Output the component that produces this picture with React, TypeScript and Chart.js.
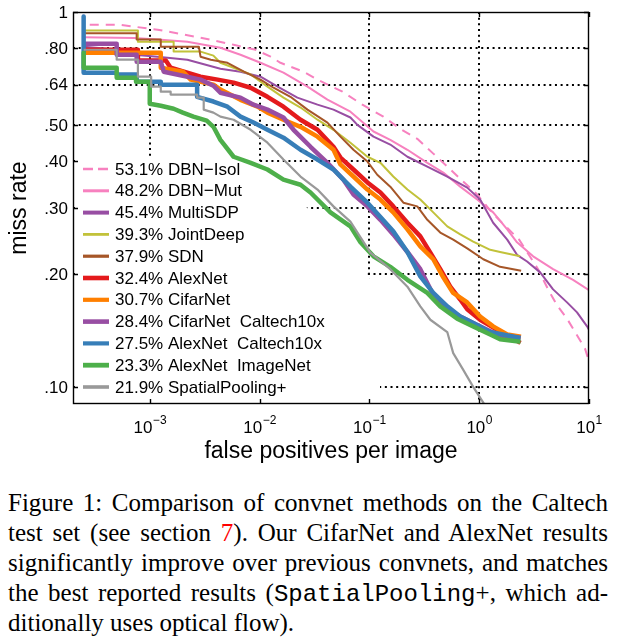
import React, { useEffect, useRef } from "react";
import { Chart, registerables } from "chart.js";

Chart.register(...registerables);

// ---------------- data ----------------
const seriesLabels = [
  "53.1% DBN\u2212Isol",
  "48.2% DBN\u2212Mut",
  "45.4% MultiSDP",
  "39.3% JointDeep",
  "37.9% SDN",
  "32.4% AlexNet",
  "30.7% CifarNet",
  "28.4% CifarNet  Caltech10x",
  "27.5% AlexNet  Caltech10x",
  "23.3% AlexNet  ImageNet",
  "21.9% SpatialPooling+",
];

// [false positives per image, miss rate]
const dbnIsol = [
  [2.5e-4, 0.983], [2.5e-4, 0.925], [5.2e-4, 0.925], [1.18e-3, 0.897], [2.9e-3, 0.854],
  [5.8e-3, 0.818], [9.2e-3, 0.793], [0.0126, 0.76], [0.0155, 0.732], [0.0251, 0.693],
  [0.0337, 0.66], [0.0569, 0.613], [0.0864, 0.566], [0.134, 0.526], [0.191, 0.488],
  [0.273, 0.459], [0.382, 0.419], [0.512, 0.387], [0.7, 0.355], [0.959, 0.326],
  [1.29, 0.293], [1.72, 0.269], [2.31, 0.247], [3.44, 0.206], [4.24, 0.182],
  [5.12, 0.165], [6.31, 0.152], [7.46, 0.14], [9.2, 0.1265], [10, 0.117],
];
const dbnMut = [
  [2.5e-4, 0.856], [7.2e-4, 0.852], [1.18e-3, 0.845], [2.2e-3, 0.833], [4.4e-3, 0.803],
  [6.7e-3, 0.769], [0.0102, 0.732], [0.0165, 0.689], [0.0273, 0.632], [0.0415, 0.584],
  [0.0672, 0.542], [0.109, 0.48], [0.155, 0.456], [0.222, 0.429], [0.337, 0.396],
  [0.471, 0.373], [0.672, 0.342], [0.959, 0.316], [1.34, 0.292], [1.8, 0.263],
  [2.21, 0.243], [3.1, 0.223], [4.71, 0.206], [7.16, 0.193], [10, 0.181],
];
const multiSdp = [
  [2.5e-4, 0.808], [5.4e-4, 0.793], [7.2e-4, 0.769], [1.18e-3, 0.76], [2.2e-3, 0.746],
  [4.4e-3, 0.706], [6.7e-3, 0.693], [0.0102, 0.672], [0.0146, 0.632], [0.0221, 0.591],
  [0.0337, 0.566], [0.0471, 0.549], [0.0672, 0.523], [0.0778, 0.5], [0.109, 0.465],
  [0.155, 0.443], [0.222, 0.411], [0.337, 0.387], [0.512, 0.364], [0.778, 0.34],
  [1.02, 0.316], [1.34, 0.274], [1.8, 0.247], [2.21, 0.225], [2.73, 0.216],
  [3.59, 0.202], [4.71, 0.182], [6.31, 0.168], [7.78, 0.158], [9.6, 0.145], [10, 0.142],
];
const jointDeep = [
  [2.5e-4, 0.893], [7.8e-4, 0.893], [7.8e-4, 0.833], [1.65e-3, 0.833], [1.65e-3, 0.785],
  [2.9e-3, 0.784], [3.8e-3, 0.765], [4.4e-3, 0.732], [5.8e-3, 0.71], [8.3e-3, 0.681],
  [0.0118, 0.632], [0.0165, 0.591], [0.0236, 0.556], [0.0337, 0.516], [0.0471, 0.485],
  [0.0672, 0.448], [0.096, 0.411], [0.126, 0.396], [0.165, 0.364], [0.222, 0.336],
  [0.291, 0.316], [0.382, 0.292], [0.512, 0.268], [0.672, 0.255], [0.882, 0.244],
  [1.26, 0.232], [1.55, 0.229], [2.36, 0.223],
];
const sdn = [
  [2.5e-4, 0.878], [7.6e-4, 0.878], [7.6e-4, 0.844], [1.26e-3, 0.844], [1.26e-3, 0.808],
  [2.8e-3, 0.808], [2.9e-3, 0.76], [3.6e-3, 0.746], [5.1e-3, 0.732], [7.2e-3, 0.693],
  [0.0102, 0.66], [0.0134, 0.628], [0.0191, 0.594], [0.0273, 0.549], [0.0415, 0.507],
  [0.0545, 0.465], [0.0716, 0.429], [0.096, 0.399], [0.118, 0.368], [0.155, 0.342],
  [0.204, 0.31], [0.273, 0.303], [0.337, 0.279], [0.442, 0.258], [0.58, 0.247],
  [0.778, 0.234], [1.09, 0.219], [1.55, 0.209], [2.41, 0.204],
];
const alexNet = [
  [2.5e-4, 0.793], [7.8e-4, 0.793], [7.8e-4, 0.742], [1.4e-3, 0.742], [1.55e-3, 0.71],
  [2.9e-3, 0.672], [4.15e-3, 0.66], [5.8e-3, 0.648], [8.3e-3, 0.628], [0.0118, 0.594],
  [0.0165, 0.559], [0.0236, 0.516], [0.0337, 0.485], [0.0471, 0.437], [0.0545, 0.409],
  [0.0716, 0.38], [0.096, 0.351], [0.126, 0.33], [0.165, 0.303], [0.222, 0.274],
  [0.291, 0.252], [0.359, 0.228], [0.442, 0.206], [0.545, 0.185], [0.672, 0.171],
  [0.778, 0.161], [1.02, 0.151], [1.46, 0.142], [2.38, 0.131],
];
const cifarNet = [
  [2.5e-4, 0.779], [1.26e-3, 0.779], [1.26e-3, 0.71], [2.0e-3, 0.693], [2.36e-3, 0.66],
  [3.8e-3, 0.64], [4.4e-3, 0.621], [6.7e-3, 0.583], [9.6e-3, 0.559], [0.0118, 0.539],
  [0.0165, 0.516], [0.0236, 0.494], [0.0337, 0.465], [0.0471, 0.429], [0.0545, 0.392],
  [0.0716, 0.364], [0.096, 0.336], [0.126, 0.316], [0.165, 0.292], [0.222, 0.263],
  [0.291, 0.237], [0.382, 0.219], [0.471, 0.196], [0.58, 0.178], [0.778, 0.168],
  [1.02, 0.154], [1.34, 0.145], [1.8, 0.138], [2.4, 0.136],
];
const cifarNet10x = [
  [2.5e-4, 0.823], [5.0e-4, 0.823], [5.0e-4, 0.769], [7.6e-4, 0.769], [7.6e-4, 0.737],
  [1.26e-3, 0.737], [1.34e-3, 0.693], [2.0e-3, 0.676], [2.9e-3, 0.66], [3.8e-3, 0.636],
  [4.4e-3, 0.609], [6.7e-3, 0.591], [8.8e-3, 0.566], [0.0118, 0.549], [0.0165, 0.523],
  [0.0204, 0.485], [0.0291, 0.437], [0.0415, 0.396], [0.058, 0.357], [0.0716, 0.326],
  [0.096, 0.303], [0.126, 0.279], [0.165, 0.255], [0.222, 0.229], [0.291, 0.206],
  [0.382, 0.176], [0.512, 0.161], [0.672, 0.154], [0.882, 0.148], [1.18, 0.142],
  [1.55, 0.137], [2.38, 0.135],
];
const alexNet10x = [
  [2.5e-4, 0.972], [2.5e-4, 0.689], [5.0e-4, 0.689], [5.0e-4, 0.681], [7.6e-4, 0.681],
  [7.6e-4, 0.652], [1.26e-3, 0.652], [1.26e-3, 0.64], [2.7e-3, 0.64], [2.7e-3, 0.594],
  [3.8e-3, 0.577], [5.1e-3, 0.559], [6.7e-3, 0.526], [8.8e-3, 0.507], [0.0118, 0.485],
  [0.0165, 0.462], [0.0236, 0.429], [0.0337, 0.404], [0.0471, 0.38], [0.0672, 0.342],
  [0.096, 0.31], [0.126, 0.284], [0.165, 0.26], [0.222, 0.229], [0.291, 0.197],
  [0.382, 0.178], [0.512, 0.164], [0.672, 0.154], [0.882, 0.148], [1.26, 0.14], [2.38, 0.135],
];
const alexNetImageNet = [
  [2.5e-4, 0.779], [2.5e-4, 0.71], [5.0e-4, 0.71], [5.0e-4, 0.668], [7.5e-4, 0.668],
  [7.5e-4, 0.652], [1.0e-3, 0.652], [1.0e-3, 0.569], [1.26e-3, 0.562], [1.65e-3, 0.552],
  [2.0e-3, 0.539], [2.5e-3, 0.526], [3.3e-3, 0.513], [3.8e-3, 0.494], [4.4e-3, 0.456],
  [5.8e-3, 0.411], [8.3e-3, 0.396], [0.0118, 0.38], [0.0165, 0.357], [0.0236, 0.346],
  [0.0291, 0.33], [0.0442, 0.292], [0.0672, 0.268], [0.083, 0.243], [0.109, 0.223],
  [0.155, 0.209], [0.222, 0.193], [0.337, 0.178], [0.442, 0.164], [0.631, 0.152],
  [0.882, 0.145], [1.26, 0.138], [1.55, 0.134], [2.38, 0.132],
];
const spatialPooling = [
  [2.5e-4, 0.793], [5.0e-4, 0.793], [5.0e-4, 0.746], [7.8e-4, 0.746], [7.8e-4, 0.672],
  [1.03e-3, 0.672], [1.03e-3, 0.632], [1.26e-3, 0.632], [1.26e-3, 0.613], [1.55e-3, 0.613],
  [1.55e-3, 0.602], [2.7e-3, 0.602], [2.7e-3, 0.591], [3.1e-3, 0.591], [3.1e-3, 0.549],
  [3.8e-3, 0.539], [4.4e-3, 0.526], [5.8e-3, 0.516], [8.3e-3, 0.485], [0.0118, 0.448],
  [0.0165, 0.404], [0.0236, 0.364], [0.0337, 0.336], [0.0471, 0.303], [0.0672, 0.276],
  [0.102, 0.228], [0.155, 0.206], [0.222, 0.185], [0.291, 0.164], [0.359, 0.151],
  [0.512, 0.14], [0.58, 0.123], [0.716, 0.111], [0.882, 0.1], [1.09, 0.0908], [1.4, 0.082],
];

const seriesData = [
  dbnIsol, dbnMut, multiSdp, jointDeep, sdn, alexNet, cifarNet,
  cifarNet10x, alexNet10x, alexNetImageNet, spatialPooling,
];

const xTickValues = [1e-3, 1e-2, 1e-1, 1, 10];
const xTickExponents = ["\u22123", "\u22122", "\u22121", "0", "1"];
const yTickValues = [1, 0.8, 0.64, 0.5, 0.4, 0.3, 0.2, 0.1];
const yTickLabels = ["1", ".80", ".64", ".50", ".40", ".30", ".20", ".10"];
const xAxisTitle = "false positives per image";
const yAxisTitle = "miss rate";

// ---------------- styles ----------------
const COLORS = [
  "#f781bf", "#f781bf", "#984ea3", "#c2c23a", "#a65628", "#e41a1c",
  "#ff7f00", "#984ea3", "#377eb8", "#4daf4a", "#999999",
];
const WIDTHS = [2, 2, 2, 2, 2, 4.5, 4.5, 4.5, 4.5, 4.5, 2.2];
const LEGEND_WIDTHS = [2.6, 3, 4, 2.8, 3.2, 4.6, 4.2, 4.6, 4.2, 4.8, 3.6];
const SANS = '"Liberation Sans", Arial, Helvetica, sans-serif';

const datasets = seriesLabels.map((label, i) => ({
  label,
  data: seriesData[i].map(([x, y]) => ({ x, y })),
  borderColor: COLORS[i],
  backgroundColor: COLORS[i],
  borderWidth: WIDTHS[i],
  borderDash: i === 0 ? [9, 7] : [],
  borderCapStyle: "butt",
  borderJoinStyle: "round",
  pointRadius: 0,
  pointHoverRadius: 0,
  fill: false,
  tension: 0,
  order: seriesLabels.length - i,
}));

const framePlugin = {
  id: "matlabFrame",
  beforeDatasetsDraw(chart: any) {
    const { ctx, chartArea: a, scales } = chart;
    const xs = scales.x;
    const ys = scales.y;
    ctx.save();
    ctx.fillStyle = "#fff";
    ctx.fillRect(a.left, a.top, a.right - a.left, a.bottom - a.top);
    // dotted grid
    ctx.strokeStyle = "#000";
    ctx.lineWidth = 2;
    ctx.setLineDash([2, 3.67]);
    for (const v of xTickValues) {
      const px = Math.round(xs.getPixelForValue(v));
      if (px > a.right - 3) continue;
      ctx.beginPath();
      ctx.moveTo(px, a.top);
      ctx.lineTo(px, a.bottom);
      ctx.stroke();
    }
    for (const v of yTickValues) {
      const py = Math.round(ys.getPixelForValue(v));
      if (py < a.top + 3) continue;
      ctx.beginPath();
      ctx.moveTo(a.left, py);
      ctx.lineTo(a.right, py);
      ctx.stroke();
    }
    ctx.setLineDash([]);
    // legend background (hides grid)
    ctx.fillStyle = "#fff";
    ctx.beginPath();
    ctx.moveTo(a.left + 2, 157);
    ctx.lineTo(255, 157);
    ctx.lineTo(300, 200);
    ctx.lineTo(362, 268);
    ctx.lineTo(380, 292);
    ctx.lineTo(380, a.bottom - 2);
    ctx.lineTo(a.left + 2, a.bottom - 2);
    ctx.closePath();
    ctx.fill();
    ctx.restore();
  },
  afterDatasetsDraw(chart: any) {
    const { ctx, chartArea: a, scales } = chart;
    const xs = scales.x;
    const ys = scales.y;
    ctx.save();
    // legend
    const rowY0 = 169;
    const rowStep = 21.8;
    ctx.font = `17px ${SANS}`;
    ctx.textBaseline = "middle";
    ctx.textAlign = "left";
    chart.data.datasets.forEach((ds: any, i: number) => {
      const y = rowY0 + i * rowStep;
      ctx.strokeStyle = ds.borderColor;
      ctx.lineWidth = LEGEND_WIDTHS[i];
      ctx.setLineDash(i === 0 ? [10, 5] : []);
      ctx.beginPath();
      ctx.moveTo(83, y);
      ctx.lineTo(109, y);
      ctx.stroke();
      ctx.setLineDash([]);
      ctx.fillStyle = "#000";
      ctx.fillText(ds.label, 115, y + 1);
    });
    // frame
    ctx.strokeStyle = "#000";
    ctx.lineWidth = 1.4;
    ctx.strokeRect(a.left + 0.5, a.top + 0.5, a.right - a.left - 1, a.bottom - a.top - 1);
    const tl = 5;
    ctx.beginPath();
    for (const v of xTickValues) {
      const px = Math.round(xs.getPixelForValue(v)) + 0.5;
      ctx.moveTo(px, a.bottom);
      ctx.lineTo(px, a.bottom - tl);
      ctx.moveTo(px, a.top);
      ctx.lineTo(px, a.top + tl);
    }
    for (const v of yTickValues) {
      const py = Math.round(ys.getPixelForValue(v)) + 0.5;
      ctx.moveTo(a.left, py);
      ctx.lineTo(a.left + tl, py);
      ctx.moveTo(a.right, py);
      ctx.lineTo(a.right - tl, py);
    }
    ctx.stroke();
    // y tick labels
    ctx.fillStyle = "#000";
    ctx.font = `17px ${SANS}`;
    ctx.textAlign = "right";
    ctx.textBaseline = "middle";
    yTickValues.forEach((v, i) => {
      ctx.fillText(yTickLabels[i], a.left - 5, ys.getPixelForValue(v) + 1);
    });
    // x tick labels with superscripts
    ctx.textAlign = "left";
    ctx.textBaseline = "alphabetic";
    xTickValues.forEach((v, i) => {
      const px = xs.getPixelForValue(v);
      ctx.font = `17px ${SANS}`;
      const wBase = ctx.measureText("10").width;
      ctx.font = `12px ${SANS}`;
      const wSup = ctx.measureText(xTickExponents[i]).width;
      const start = px - (wBase + wSup) / 2;
      ctx.font = `17px ${SANS}`;
      ctx.fillText("10", start, a.bottom + 29);
      ctx.font = `12px ${SANS}`;
      ctx.fillText(xTickExponents[i], start + wBase + 0.5, a.bottom + 20);
    });
    // axis titles
    ctx.font = `23px ${SANS}`;
    ctx.textAlign = "center";
    ctx.textBaseline = "alphabetic";
    ctx.fillText(xAxisTitle, (a.left + a.right) / 2, a.bottom + 54);
    ctx.save();
    ctx.translate(20, (a.top + a.bottom) / 2);
    ctx.rotate(-Math.PI / 2);
    ctx.textBaseline = "middle";
    ctx.fillText(yAxisTitle, 0, 0);
    ctx.restore();
    ctx.restore();
  },
};

const justified: React.CSSProperties = {
  textAlign: "justify",
  textAlignLast: "justify",
  whiteSpace: "nowrap",
  height: 30,
};

export default function App() {
  const canvasRef = useRef<HTMLCanvasElement | null>(null);

  useEffect(() => {
    if (!canvasRef.current) return;
    const chart = new Chart(canvasRef.current, {
      type: "line",
      data: { datasets: datasets as any },
      options: {
        responsive: false,
        maintainAspectRatio: false,
        devicePixelRatio: 1,
        animation: false,
        layout: { padding: { left: 73, top: 12, right: 41, bottom: 76 } },
        scales: {
          x: { type: "logarithmic", min: 2e-4, max: 10, display: false },
          y: { type: "logarithmic", min: 0.09, max: 1, display: false },
        },
        plugins: {
          legend: { display: false },
          tooltip: { enabled: false },
        },
        events: [],
      } as any,
      plugins: [framePlugin],
    });
    return () => chart.destroy();
  }, []);

  return (
    <div style={{ position: "absolute", left: 0, top: 0, width: 630, height: 643, background: "#fff" }}>
      <canvas
        ref={canvasRef}
        width={630}
        height={480}
        style={{ position: "absolute", left: 0, top: 0, width: 630, height: 480, display: "block" }}
      />
      <div
        style={{
          position: "absolute",
          left: 8,
          top: 488,
          width: 600,
          fontFamily: '"Liberation Serif", "Times New Roman", serif',
          fontSize: 25,
          lineHeight: "30px",
          color: "#000",
        }}
      >
        <div style={justified}>Figure 1: Comparison of convnet methods on the Caltech</div>
        <div style={justified}>
          test set (see section <span style={{ color: "#ff0000" }}>7</span>). Our CifarNet and AlexNet results
        </div>
        <div style={justified}>significantly improve over previous convnets, and matches</div>
        <div style={justified}>
          the best reported results (
          <span style={{ fontFamily: '"Liberation Mono", "Courier New", monospace', fontSize: 24 }}>SpatialPooling</span>+, which ad-
        </div>
        <div style={{ whiteSpace: "nowrap", height: 30 }}>ditionally uses optical flow).</div>
      </div>
    </div>
  );
}
